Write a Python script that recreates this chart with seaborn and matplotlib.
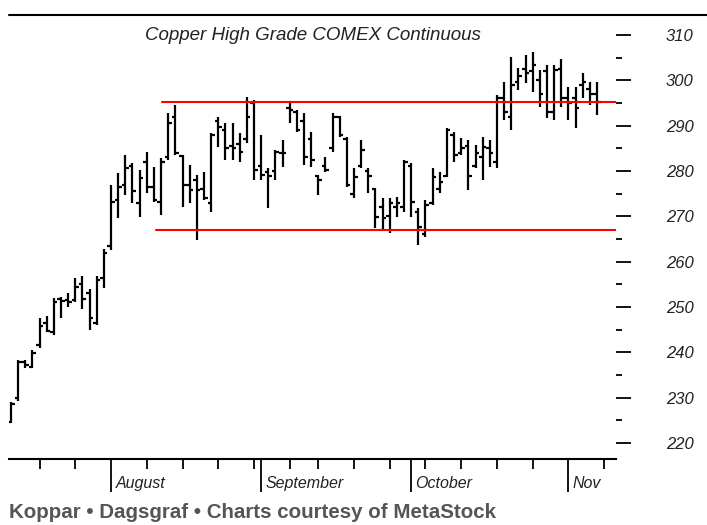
import numpy as np
import pandas as pd
import matplotlib
matplotlib.use("Agg")
import matplotlib.pyplot as plt
import seaborn as sns
from matplotlib.lines import Line2D
from matplotlib.patches import Rectangle

# daily bars, COMEX copper (cents/lb), Jul 14 - Nov 6 2009, Labor Day closed
dates = pd.bdate_range("2009-07-14", "2009-11-06")
dates = dates[dates != pd.Timestamp("2009-09-07")]

highs = [229.0, 238.3, 238.3, 240.5, 247.6, 248.0, 252.0, 252.2, 253.1, 256.4,
         256.8, 254.0, 256.8, 262.8, 276.9, 279.6, 283.5, 281.8, 280.2, 284.2,
         280.9, 282.9, 292.8, 294.6, 283.5, 281.3, 279.1, 279.8, 288.4, 291.9,
         290.6, 290.6, 288.4, 296.3, 295.7, 287.9, 280.7, 284.6, 286.8, 295.0,
         293.5, 292.8, 288.6, 279.1, 283.1, 292.8, 292.1, 287.5, 280.7, 286.8,
         280.7, 276.2, 274.0, 274.0, 274.3, 282.4, 281.8, 271.8, 273.6, 280.7,
         279.8, 289.5, 288.6, 287.3, 286.8, 285.7, 287.5, 286.8, 296.8, 299.6,
         305.1, 302.7, 305.6, 306.2, 302.3, 303.4, 303.4, 304.7, 298.5, 298.5,
         301.6, 299.6, 299.6]
lows = [224.4, 229.3, 236.5, 236.5, 241.0, 244.5, 243.8, 247.6, 250.0, 251.0,
        249.5, 245.0, 246.0, 254.2, 262.6, 269.6, 274.7, 272.9, 269.9, 275.2,
        273.2, 270.3, 282.4, 283.5, 272.1, 272.9, 264.8, 273.6, 271.0, 285.3,
        282.4, 282.4, 282.0, 286.2, 278.0, 278.0, 271.8, 278.0, 280.9, 290.6,
        288.6, 281.3, 280.9, 274.7, 279.8, 284.2, 287.5, 276.5, 274.0, 280.7,
        275.1, 267.4, 267.0, 266.3, 269.8, 271.0, 269.8, 263.7, 265.4, 272.5,
        275.1, 278.7, 282.0, 283.5, 275.8, 280.7, 278.0, 280.9, 280.7, 291.2,
        289.0, 297.9, 299.4, 297.4, 294.1, 291.7, 291.2, 294.1, 291.2, 289.5,
        296.1, 294.6, 292.4]
opens = [224.6, 230.0, 237.8, 236.8, 241.5, 246.5, 244.5, 251.7, 251.5, 251.5,
         255.0, 253.0, 246.5, 256.5, 263.5, 273.5, 277.0, 281.0, 273.0, 282.0,
         276.5, 273.2, 283.0, 292.0, 283.3, 277.0, 278.0, 276.0, 273.0, 291.0,
         289.0, 285.5, 286.0, 287.0, 295.0, 281.0, 279.8, 280.0, 284.0, 294.0,
         293.0, 291.0, 287.0, 279.0, 281.0, 285.0, 292.0, 287.0, 275.0, 281.0,
         280.0, 276.0, 272.0, 270.0, 272.0, 272.0, 281.0, 271.0, 266.0, 273.0,
         276.0, 279.0, 288.0, 284.0, 285.5, 281.0, 283.0, 285.0, 282.0, 296.0,
         292.0, 299.6, 302.5, 302.0, 300.0, 302.0, 293.0, 302.5, 296.0, 296.0,
         299.0, 298.0, 297.0]
closes = [228.5, 237.9, 237.2, 239.8, 245.8, 244.8, 251.0, 251.4, 251.0, 254.5,
          251.8, 247.6, 256.0, 262.0, 273.2, 276.5, 280.7, 275.5, 278.5, 276.5,
          273.5, 282.0, 290.6, 284.0, 277.0, 275.8, 275.8, 274.0, 288.0, 289.7,
          285.1, 285.0, 284.2, 292.0, 280.2, 279.1, 279.0, 284.2, 284.0, 293.5,
          289.0, 283.0, 282.4, 278.0, 280.2, 292.0, 288.0, 277.0, 278.7, 284.6,
          279.0, 269.8, 269.6, 273.0, 273.0, 282.0, 273.2, 267.6, 272.5, 278.7,
          277.5, 289.0, 283.5, 285.0, 279.0, 284.0, 285.3, 284.0, 296.0, 293.0,
          299.0, 301.0, 301.6, 303.4, 297.0, 293.0, 302.3, 296.0, 295.0, 294.0,
          299.6, 297.0, 295.2]

resistance = 295.2
support = 267.0
month_names = ["August", "September", "October", "November"]

sns.set_theme(style="white")
plt.rcParams["font.family"] = ["Liberation Sans", "DejaVu Sans"]

fig = plt.figure(figsize=(7.07, 5.25), dpi=100)
ax = fig.add_axes([9 / 707, 66 / 525, 607 / 707, 444 / 525])

x = np.arange(len(dates))
ax.vlines(x, lows, highs, color="black", linewidth=1.6, zorder=2)
ax.hlines(opens, x - 0.5, x, color="black", linewidth=1.6, zorder=2)
ax.hlines(closes, x, x + 0.5, color="black", linewidth=1.6, zorder=2)

# trading range lines
x_end = 84.7
sns.lineplot(x=[21.1, x_end], y=[resistance, resistance], color="red", linewidth=1.5, ax=ax, zorder=3)
sns.lineplot(x=[20.25, x_end], y=[support, support], color="red", linewidth=1.5, ax=ax, zorder=3)

ax.set_xlim(-0.28, 84.66)
ax.set_ylim(216.46, 314.41)
ax.set_xlabel("")
ax.set_ylabel("")

# week and month ticks
d = pd.Series(dates)
week_idx = [i for i in range(1, len(d)) if d[i].isocalendar()[1] != d[i - 1].isocalendar()[1]]
week_idx.append(len(d))  # Nov 9
month_idx = [i for i in range(1, len(d)) if d[i].month != d[i - 1].month]

ax.set_xticks(month_idx)
ax.set_xticks(week_idx, minor=True)
ax.set_xticklabels([])
ax.tick_params(axis="x", which="major", length=24, width=1.3, color="black",
               direction="out", bottom=True)
ax.tick_params(axis="x", which="minor", length=7, width=1.3, color="black",
               direction="out", bottom=True)

ax.yaxis.tick_right()
ax.set_yticks(range(220, 311, 10))
ax.set_yticks(range(225, 310, 10), minor=True)
ax.tick_params(axis="y", which="major", length=10.8, width=1.3, color="black",
               direction="out", pad=25, labelsize=12, labelcolor="#222222", right=True)
ax.tick_params(axis="y", which="minor", length=4.3, width=1.3, color="black",
               direction="out", right=True)
for lab in ax.get_yticklabels():
    lab.set_fontstyle("italic")

for s in ["top", "left", "right"]:
    ax.spines[s].set_visible(False)
ax.spines["bottom"].set_linewidth(1.5)
ax.spines["bottom"].set_color("black")
ax.grid(False)

clip = Rectangle((0, 0), 601 / 707, 1, transform=fig.transFigure)
trans = ax.get_xaxis_transform()
for idx, name in zip(month_idx, month_names):
    t = ax.text(idx + 0.6, -0.055, name, transform=trans, ha="left", va="center",
                fontsize=11.5, fontstyle="italic", color="#222222", clip_on=True)
    t.set_clip_path(clip)

fig.add_artist(Line2D([9 / 707, 1], [1 - 15 / 525] * 2, color="black", linewidth=1.5))
fig.text(313 / 707, 1 - 36 / 525, "Copper High Grade COMEX Continuous", ha="center", va="center",
         fontsize=13.5, fontstyle="italic", color="#222222")
fig.text(9 / 707, 1 - 512 / 525, "Koppar \u2022 Dagsgraf \u2022 Charts courtesy of MetaStock",
         ha="left", va="center", fontsize=14.8, fontweight="bold", color="#555555")

fig.savefig("out.png", dpi=100)
